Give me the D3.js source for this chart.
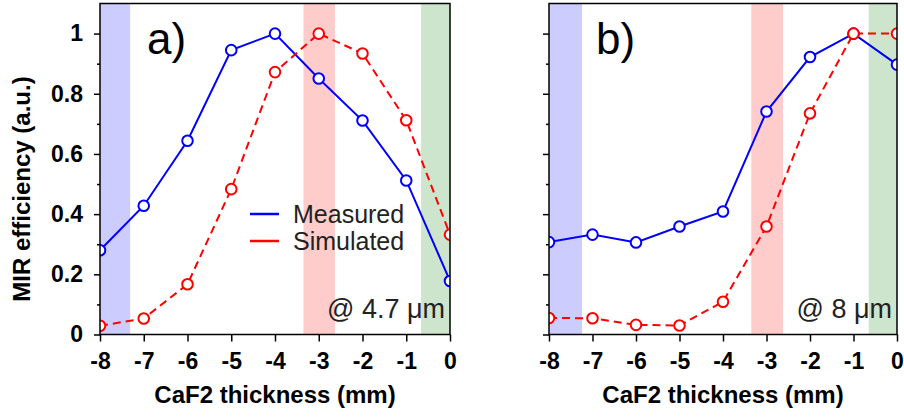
<!DOCTYPE html>
<html>
<head>
<meta charset="utf-8">
<script src="https://cdn.jsdelivr.net/npm/d3@7"></script>
<style>
  html, body { margin: 0; padding: 0; background: #fff; }
  svg { display: block; font-family: "Liberation Sans", Arial, sans-serif; }
</style>
</head>
<body>
<svg id="chart" width="904" height="417"></svg>
<script>
// CaF2 thickness (mm) at each measurement
const thickness = [-8, -7, -6, -5, -4, -3, -2, -1, 0];

// Normalised MIR efficiency, panel a) at 4.7 µm
const measuredA  = [0.28, 0.428, 0.644, 0.945, 1.0, 0.851, 0.711, 0.512, 0.178];
const simulatedA = [0.029, 0.053, 0.167, 0.483, 0.872, 1.0, 0.934, 0.712, 0.332];

// Normalised MIR efficiency, panel b) at 8 µm
const measuredB  = [0.307, 0.332, 0.306, 0.359, 0.409, 0.741, 0.922, 1.0, 0.897];
const simulatedB = [0.055, 0.054, 0.032, 0.030, 0.109, 0.359, 0.735, 1.0, 1.0];

// Shaded thickness ranges [from, to] per panel
const bandsA = [[-8, -7.31], [-3.35, -2.63], [-0.66, 0]];
const bandsB = [[-8, -7.24], [-3.35, -2.62], [-0.65, 0]];
const bandColors = ["#ccccff", "#ffcccc", "#cce5cc"];

const xTicks = [-8, -7, -6, -5, -4, -3, -2, -1, 0];
const yTicks = [0, 0.2, 0.4, 0.6, 0.8, 1];
const yMinorTicks = [0.1, 0.3, 0.5, 0.7, 0.9];

const seriesNames = ["Measured", "Simulated"];
const seriesColors = ["#0000ff", "#ff0000"];

const svg = d3.select("#chart");

const panels = [
  { id: "a", left: 100, right: 450, tag: "a)", note: "@ 4.7 \u03bcm",
    measured: measuredA, simulated: simulatedA, bands: bandsA, yLabels: true, legend: true },
  { id: "b", left: 549, right: 897, tag: "b)", note: "@ 8 \u03bcm",
    measured: measuredB, simulated: simulatedB, bands: bandsB, yLabels: false, legend: false }
];

const plotTop = 3.5, plotBottom = 334.5;

panels.forEach(p => {
  const x = d3.scaleLinear().domain([-8, 0]).range([p.left, p.right]);
  const y = d3.scaleLinear().domain([0, 1.1]).range([plotBottom, plotTop]);
  const g = svg.append("g");

  const clipId = "clip-" + p.id;
  svg.append("defs").append("clipPath").attr("id", clipId)
    .append("rect").attr("x", p.left).attr("y", plotTop)
    .attr("width", p.right - p.left).attr("height", plotBottom - plotTop);

  const plot = g.append("g").attr("clip-path", `url(#${clipId})`);

  // shaded ranges
  plot.selectAll("rect.band").data(p.bands).enter().append("rect")
    .attr("class", "band")
    .attr("x", d => x(d[0]))
    .attr("width", d => x(d[1]) - x(d[0]))
    .attr("y", plotTop).attr("height", plotBottom - plotTop)
    .attr("fill", (d, i) => bandColors[i]);

  // series lines and markers
  const series = [
    { values: p.measured, color: seriesColors[0], dash: null },
    { values: p.simulated, color: seriesColors[1], dash: "8,5" }
  ];
  const line = d3.line().x((d, i) => x(thickness[i])).y(d => y(d));
  series.forEach(s => {
    plot.append("path").datum(s.values)
      .attr("d", line)
      .attr("fill", "none")
      .attr("stroke", s.color)
      .attr("stroke-width", 2)
      .attr("stroke-dasharray", s.dash);
  });
  series.forEach(s => {
    plot.selectAll(null).data(s.values).enter().append("circle")
      .attr("cx", (d, i) => x(thickness[i]))
      .attr("cy", d => y(d))
      .attr("r", 5.3)
      .attr("fill", "#fff")
      .attr("stroke", s.color)
      .attr("stroke-width", 2);
  });

  // x axis
  const xAxis = g.append("g").attr("transform", `translate(0,${plotBottom})`)
    .call(d3.axisBottom(x).tickValues(xTicks).tickSize(7).tickPadding(11)
      .tickFormat(d3.format("d")));
  xAxis.select(".domain").remove();
  xAxis.selectAll(".tick line").attr("stroke", "#000").attr("stroke-width", 1.5);
  xAxis.selectAll(".tick text")
    .attr("font-size", 23).attr("font-weight", "bold").attr("fill", "#000")
    .attr("font-family", "Liberation Sans, Arial, sans-serif")
    .text(d => d === 0 ? "0" : "-" + Math.abs(d));

  // y axis
  const yAxis = g.append("g").attr("transform", `translate(${p.left},0)`)
    .call(d3.axisLeft(y).tickValues(yTicks).tickSize(6).tickPadding(11)
      .tickFormat(d => d === 0 ? "0" : d === 1 ? "1" : d3.format(".1f")(d)));
  yAxis.select(".domain").remove();
  yAxis.selectAll(".tick line").attr("stroke", "#000").attr("stroke-width", 1.5);
  yAxis.selectAll(".tick text")
    .attr("font-size", 23).attr("font-weight", "bold").attr("fill", "#000")
    .attr("font-family", "Liberation Sans, Arial, sans-serif");
  if (!p.yLabels) yAxis.selectAll(".tick text").remove();

  const yMinor = g.append("g").attr("transform", `translate(${p.left},0)`)
    .call(d3.axisLeft(y).tickValues(yMinorTicks).tickSize(3).tickFormat(""));
  yMinor.select(".domain").remove();
  yMinor.selectAll(".tick line").attr("stroke", "#000").attr("stroke-width", 1.5);

  // frame
  g.append("rect")
    .attr("x", p.left).attr("y", plotTop)
    .attr("width", p.right - p.left).attr("height", plotBottom - plotTop)
    .attr("fill", "none").attr("stroke", "#000").attr("stroke-width", 1.5);

  // panel tag
  g.append("text")
    .attr("x", x(-8) + 47).attr("y", 54)
    .attr("font-size", 44).attr("fill", "#000")
    .text(p.tag);

  // wavelength note
  g.append("text")
    .attr("x", p.right - 5).attr("y", 318)
    .attr("text-anchor", "end")
    .attr("font-size", 27).attr("fill", "#222")
    .text(p.note);

  // x title
  g.append("text")
    .attr("x", (p.left + p.right) / 2).attr("y", 403)
    .attr("text-anchor", "middle")
    .attr("font-size", 24).attr("font-weight", "bold").attr("fill", "#000")
    .text("CaF2 thickness (mm)");

  if (p.legend) {
    const lg = g.append("g");
    seriesNames.forEach((name, i) => {
      const ly = 214 + i * 27;
      lg.append("line")
        .attr("x1", 250).attr("x2", 279).attr("y1", ly).attr("y2", ly)
        .attr("stroke", seriesColors[i]).attr("stroke-width", 2.5);
      lg.append("text")
        .attr("x", 293).attr("y", ly + 9)
        .attr("font-size", 25).attr("fill", "#222")
        .text(name);
    });
  }
});

// y title
svg.append("text")
  .attr("transform", `translate(30,${(plotTop + plotBottom) / 2 + 20}) rotate(-90)`)
  .attr("text-anchor", "middle")
  .attr("font-size", 24).attr("font-weight", "bold").attr("fill", "#000")
  .text("MIR efficiency (a.u.)");
</script>
</body>
</html>
